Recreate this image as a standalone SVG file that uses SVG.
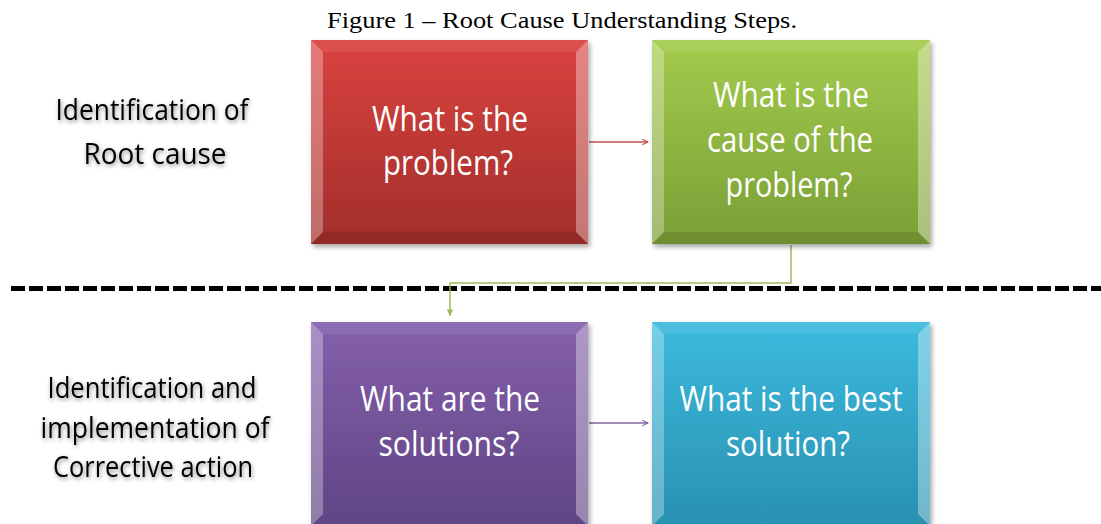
<svg xmlns="http://www.w3.org/2000/svg" width="1101" height="524" viewBox="0 0 1101 524">
  <defs>
    <linearGradient id="gRed" x1="0" y1="0" x2="0" y2="1">
      <stop offset="0" stop-color="#d9433f"/>
      <stop offset="1" stop-color="#a22e2b"/>
    </linearGradient>
    <linearGradient id="gGreen" x1="0" y1="0" x2="0" y2="1">
      <stop offset="0" stop-color="#a3cb4d"/>
      <stop offset="1" stop-color="#7a9f36"/>
    </linearGradient>
    <linearGradient id="gPurple" x1="0" y1="0" x2="0" y2="1">
      <stop offset="0" stop-color="#8560ac"/>
      <stop offset="1" stop-color="#5f4584"/>
    </linearGradient>
    <linearGradient id="gBlue" x1="0" y1="0" x2="0" y2="1">
      <stop offset="0" stop-color="#3cbade"/>
      <stop offset="1" stop-color="#2990b0"/>
    </linearGradient>
    <filter id="boxShadow" x="-10%" y="-10%" width="125%" height="125%">
      <feDropShadow dx="2" dy="3" stdDeviation="2.5" flood-color="#000" flood-opacity="0.35"/>
    </filter>
    <filter id="textShadow" x="-10%" y="-30%" width="120%" height="170%">
      <feDropShadow dx="1" dy="2" stdDeviation="2" flood-color="#000" flood-opacity="0.45"/>
    </filter>
    <marker id="arrRed" viewBox="0 0 10 10" refX="9" refY="5" markerWidth="7" markerHeight="7" orient="auto" markerUnits="userSpaceOnUse">
      <path d="M1,1 L9,5 L1,9" fill="none" stroke="#c0504d" stroke-width="1.5"/>
    </marker>
    <marker id="arrGreen" viewBox="0 0 10 10" refX="9" refY="5" markerWidth="8" markerHeight="8" orient="auto" markerUnits="userSpaceOnUse">
      <path d="M1,1 L9,5 L1,9 Z" fill="#9bbb59"/>
    </marker>
    <marker id="arrPurple" viewBox="0 0 10 10" refX="9" refY="5" markerWidth="7" markerHeight="7" orient="auto" markerUnits="userSpaceOnUse">
      <path d="M1,1 L9,5 L1,9" fill="none" stroke="#8064a2" stroke-width="1.5"/>
    </marker>
  </defs>
  <style>
    .title { font-family: "Liberation Serif", "Times New Roman", serif; font-size: 24px; fill: #000; }
    .side { font-family: "Open Sans", "Noto Sans", sans-serif; font-size: 30px; fill: #000; text-anchor: middle; filter: url(#textShadow); }
    .box-text { font-family: "Open Sans", "Noto Sans", sans-serif; font-size: 34px; fill: #fff; text-anchor: middle; }
    .hl { fill: #fff; }
    .dk { fill: #000; }
  </style>

  <rect width="1101" height="524" fill="#fff"/>

  <text class="title" x="327" y="28" textLength="470" lengthAdjust="spacingAndGlyphs">Figure 1 – Root Cause Understanding Steps.</text>

  <g id="label-root-cause">
    <text class="side" x="152" y="120" textLength="193" lengthAdjust="spacingAndGlyphs">Identification of</text>
    <text class="side" x="155" y="164" textLength="143" lengthAdjust="spacingAndGlyphs">Root cause</text>
  </g>

  <g id="label-corrective">
    <text class="side" x="152" y="398" textLength="209" lengthAdjust="spacingAndGlyphs">Identification and</text>
    <text class="side" x="155" y="438" textLength="229" lengthAdjust="spacingAndGlyphs">implementation of</text>
    <text class="side" x="153" y="477" textLength="200" lengthAdjust="spacingAndGlyphs">Corrective action</text>
  </g>

  <!-- section divider -->
  <line x1="11" y1="288.5" x2="1101" y2="288.5" stroke="#000" stroke-width="5" stroke-dasharray="14 4"/>

  <g id="connectors" fill="none">
    <line x1="589" y1="142" x2="648" y2="142" stroke="#c0504d" stroke-width="1.3" marker-end="url(#arrRed)"/>
    <path d="M791,245 V283 H450 V316" stroke="#9bbb59" stroke-width="1.5" marker-end="url(#arrGreen)"/>
    <line x1="589" y1="423" x2="648" y2="423" stroke="#8064a2" stroke-width="1.3" marker-end="url(#arrPurple)"/>
  </g>

  <g id="node-problem">
    <rect x="311" y="40" width="277" height="204" fill="url(#gRed)" filter="url(#boxShadow)"/>
    <polygon class="hl" points="311,40 588,40 576,52 323,52" opacity="0.08"/>
    <polygon class="hl" points="311,40 323,52 323,232 311,244" opacity="0.3"/>
    <polygon class="hl" points="588,40 576,52 576,232 588,244" opacity="0.35"/>
    <polygon class="dk" points="311,244 323,232 576,232 588,244" opacity="0.1"/>
    <text class="box-text" x="450" y="131" textLength="156" lengthAdjust="spacingAndGlyphs">What is the</text>
    <text class="box-text" x="448" y="175" textLength="130" lengthAdjust="spacingAndGlyphs">problem?</text>
  </g>

  <g id="node-cause">
    <rect x="652" y="40" width="278" height="204" fill="url(#gGreen)" filter="url(#boxShadow)"/>
    <polygon class="hl" points="652,40 930,40 918,52 664,52" opacity="0.08"/>
    <polygon class="hl" points="652,40 664,52 664,232 652,244" opacity="0.3"/>
    <polygon class="hl" points="930,40 918,52 918,232 930,244" opacity="0.35"/>
    <polygon class="dk" points="652,244 664,232 918,232 930,244" opacity="0.1"/>
    <text class="box-text" x="791" y="107" textLength="156" lengthAdjust="spacingAndGlyphs">What is the</text>
    <text class="box-text" x="790" y="152" textLength="166" lengthAdjust="spacingAndGlyphs">cause of the</text>
    <text class="box-text" x="789" y="197" textLength="127" lengthAdjust="spacingAndGlyphs">problem?</text>
  </g>

  <g id="node-solutions">
    <rect x="311" y="322" width="277" height="204" fill="url(#gPurple)" filter="url(#boxShadow)"/>
    <polygon class="hl" points="311,322 588,322 576,334 323,334" opacity="0.08"/>
    <polygon class="hl" points="311,322 323,334 323,514 311,526" opacity="0.3"/>
    <polygon class="hl" points="588,322 576,334 576,514 588,526" opacity="0.35"/>
    <text class="box-text" x="450" y="411" textLength="180" lengthAdjust="spacingAndGlyphs">What are the</text>
    <text class="box-text" x="449" y="456" textLength="141" lengthAdjust="spacingAndGlyphs">solutions?</text>
  </g>

  <g id="node-best">
    <rect x="652" y="322" width="278" height="204" fill="url(#gBlue)" filter="url(#boxShadow)"/>
    <polygon class="hl" points="652,322 930,322 918,334 664,334" opacity="0.08"/>
    <polygon class="hl" points="652,322 664,334 664,514 652,526" opacity="0.3"/>
    <polygon class="hl" points="930,322 918,334 918,514 930,526" opacity="0.35"/>
    <text class="box-text" x="791" y="411" textLength="223" lengthAdjust="spacingAndGlyphs">What is the best</text>
    <text class="box-text" x="788" y="456" textLength="124" lengthAdjust="spacingAndGlyphs">solution?</text>
  </g>
</svg>
